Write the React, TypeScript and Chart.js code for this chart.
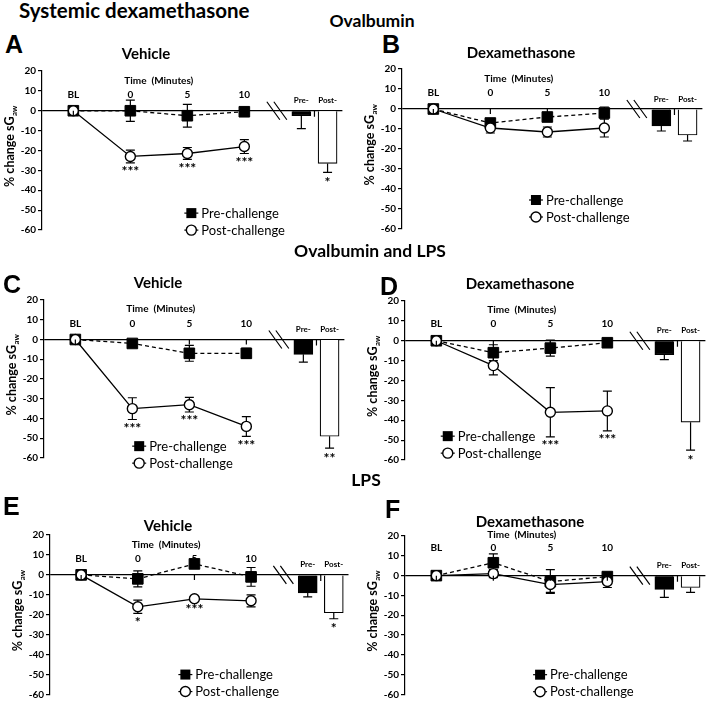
import React, { useEffect, useRef } from 'react';
import { Chart, registerables } from 'chart.js';
Chart.register(...registerables);

// ---------- text ----------
const figureTitle = 'Systemic dexamethasone';
const groupTitles = ['Ovalbumin', 'Ovalbumin and LPS', 'LPS'];
const panelLetters = ['A', 'B', 'C', 'D', 'E', 'F'];
const panelTitles = ['Vehicle', 'Dexamethasone', 'Vehicle', 'Dexamethasone', 'Vehicle', 'Dexamethasone'];
const categories = ['BL', '0', '5', '10'];
const barLabels = ['Pre-', 'Post-'];
const seriesNames = ['Pre-challenge', 'Post-challenge'];
const timeTitle = 'Time  (Minutes)';
const yTitleMain = '% change sG';
const yTitleSub = 'aw';
const yTicks = [20, 10, 0, -10, -20, -30, -40, -50, -60];

// ---------- data ----------
const preA = [0, 0, -2.5, -0.5];
const preAErr = [0, 5.3, 5.7, 1];
const postA = [0, -23, -21.5, -18];
const postAErr = [0, 3.2, 3, 3.5];
const barsA = [-2.5, -26.5];
const barsAErr = [6.5, 4.5];
const sigA = ['', '***', '***', '***'];
const sigBarsA = ['', '*'];

const preB = [0, -7, -4, -2];
const preBErr = [0, 2, 2, 3];
const postB = [0, -9.5, -11.5, -9.5];
const postBErr = [0, 2.5, 2.5, 4.5];
const barsB = [-8.5, -13];
const barsBErr = [2.5, 3];
const sigB = ['', '', '', ''];
const sigBarsB = ['', ''];

const preC = [0, -2, -7, -7];
const preCErr = [0, 1, 4, 2.5];
const postC = [0, -35, -33, -44];
const postCErr = [0, 5.5, 3.7, 5];
const barsC = [-7.5, -49];
const barsCErr = [4, 6];
const sigC = ['', '***', '***', '***'];
const sigBarsC = ['', '**'];

const preD = [0, -6, -3.7, -1];
const preDErr = [0, 4, 4, 1.5];
const postD = [0, -12.5, -36, -35.3];
const postDErr = [0, 4.7, 12.4, 10];
const barsD = [-7, -41];
const barsDErr = [2.5, 14];
const sigD = ['', '', '***', '***'];
const sigBarsD = ['', '*'];

const preE = [0, -2, 5.5, -1];
const preEErr = [0, 4, 1.5, 4.7];
const postE = [0, -16, -12, -13];
const postEErr = [0, 3.3, 1, 3];
const barsE = [-9, -19];
const barsEErr = [2, 3];
const sigE = ['', '*', '***', ''];
const sigBarsE = ['', '*'];

const preF = [0, 6.5, -3, -0.5];
const preFErr = [0, 4.5, 6, 1.5];
const postF = [0, 1, -4.5, -3];
const postFErr = [0, 2, 4, 3];
const barsF = [-7, -6];
const barsFErr = [4, 2.5];
const sigF = ['', '', '', ''];
const sigBarsF = ['', ''];

// ---------- layout ----------
const FONT = 'Lato, "Open Sans", sans-serif';
const X_MIN = -0.55;
const X_MAX = 4.72;
const BAR_X = [4.0, 4.46];
const BREAK_X = 3.57;
const TIME_X = 1.5;
const UNIT = 57;
const COL_W = 357;
const Y_AXIS_W = 30;

const panels = [
  { pre: preA, preErr: preAErr, post: postA, postErr: postAErr, bars: barsA, barsErr: barsAErr, sig: sigA, sigBars: sigBarsA,
    col: 0, top: 60, height: 182, axisX: 42, yTop: 71, yBottom: 230, labelOff: 16, timeOff: 30, legX: 2.07, legY: -51.5 },
  { pre: preB, preErr: preBErr, post: postB, postErr: postBErr, bars: barsB, barsErr: barsBErr, sig: sigB, sigBars: sigBarsB,
    col: 357, top: 60, height: 182, axisX: 402, yTop: 69, yBottom: 229, labelOff: 16, timeOff: 30, legX: 1.8, legY: -45.5 },
  { pre: preC, preErr: preCErr, post: postC, postErr: postCErr, bars: barsC, barsErr: barsCErr, sig: sigC, sigBars: sigBarsC,
    col: 0, top: 290, height: 182, axisX: 44, yTop: 300, yBottom: 458, labelOff: 16, timeOff: 31, legX: 1.12, legY: -54 },
  { pre: preD, preErr: preDErr, post: postD, postErr: postDErr, bars: barsD, barsErr: barsDErr, sig: sigD, sigBars: sigBarsD,
    col: 357, top: 290, height: 182, axisX: 405, yTop: 301, yBottom: 460, labelOff: 17, timeOff: 31, legX: 0.2, legY: -48 },
  { pre: preE, preErr: preEErr, post: postE, postErr: postEErr, bars: barsE, barsErr: barsEErr, sig: sigE, sigBars: sigBarsE,
    col: 0, top: 524, height: 179, axisX: 50, yTop: 535, yBottom: 695, labelOff: 16, timeOff: 30, legX: 1.84, legY: -50 },
  { pre: preF, preErr: preFErr, post: postF, postErr: postFErr, bars: barsF, barsErr: barsFErr, sig: sigF, sigBars: sigBarsF,
    col: 357, top: 524, height: 179, axisX: 405, yTop: 536, yBottom: 695, labelOff: 28, timeOff: 41, legX: 1.82, legY: -50 },
];

const decorPlugin = {
  id: 'decor',
  beforeDatasetsDraw(chart: any) {
    const ctx = chart.ctx;
    const ys = chart.scales.y;
    ctx.save();
    ctx.strokeStyle = '#000';
    ctx.lineWidth = 1.2;
    chart.data.datasets.forEach((ds: any, di: number) => {
      const meta = chart.getDatasetMeta(di);
      const errs = ds.errors || [];
      meta.data.forEach((el: any, i: number) => {
        const e = errs[i];
        if (!e) return;
        const v = ds.data[i].y;
        const x = el.x;
        let y1, y2;
        if (ds.errMode === 'outward') {
          y1 = ys.getPixelForValue(v);
          y2 = ys.getPixelForValue(v < 0 ? v - e : v + e);
        } else {
          y1 = ys.getPixelForValue(v + e);
          y2 = ys.getPixelForValue(v - e);
        }
        const cw = 4.5;
        ctx.beginPath();
        ctx.moveTo(x, y1); ctx.lineTo(x, y2);
        if (ds.errMode !== 'outward') { ctx.moveTo(x - cw, y1); ctx.lineTo(x + cw, y1); }
        ctx.moveTo(x - cw, y2); ctx.lineTo(x + cw, y2);
        ctx.stroke();
      });
    });
    ctx.restore();
  },
  afterDatasetsDraw(chart: any, _args: any, o: any) {
    const ctx = chart.ctx;
    const xs = chart.scales.x;
    const ys = chart.scales.y;
    const area = chart.chartArea;
    const zy = ys.getPixelForValue(0);
    ctx.save();
    ctx.fillStyle = '#000';
    ctx.strokeStyle = '#000';
    ctx.lineWidth = 1.2;
    // small ticks on zero line
    ctx.beginPath();
    categories.forEach((_, i) => {
      const x = xs.getPixelForValue(i);
      ctx.moveTo(x, zy); ctx.lineTo(x, zy + 5);
    });
    const mid = xs.getPixelForValue((BAR_X[0] + BAR_X[1]) / 2);
    ctx.moveTo(mid, zy); ctx.lineTo(mid, zy + 6);
    ctx.stroke();
    // axis break
    const bx = xs.getPixelForValue(BREAK_X);
    ctx.beginPath();
    for (let k = 0; k < 2; k++) {
      const off = k * 7 - 3.5;
      ctx.moveTo(bx + off - 6.5, zy - 9);
      ctx.lineTo(bx + off + 6.5, zy + 9);
    }
    ctx.stroke();
    // category labels
    ctx.textAlign = 'center';
    ctx.textBaseline = 'middle';
    ctx.font = `bold 10px ${FONT}`;
    categories.forEach((c, i) => ctx.fillText(c, xs.getPixelForValue(i), zy - o.labelOff));
    ctx.fillText(timeTitle, xs.getPixelForValue(TIME_X), zy - o.timeOff);
    ctx.font = `bold 8px ${FONT}`;
    barLabels.forEach((c, i) => ctx.fillText(c, xs.getPixelForValue(BAR_X[i]), zy - 10));
    // significance marks
    ctx.font = `bold 14px ${FONT}`;
    ctx.textBaseline = 'top';
    const postDs = chart.data.datasets[0];
    const postMeta = chart.getDatasetMeta(0);
    o.sig.forEach((s: string, i: number) => {
      if (!s) return;
      const v = postDs.data[i].y - (postDs.errors[i] || 0);
      ctx.fillText(s, postMeta.data[i].x, ys.getPixelForValue(v) + 2);
    });
    const barDs = chart.data.datasets[2];
    const barMeta = chart.getDatasetMeta(2);
    o.sigBars.forEach((s: string, i: number) => {
      if (!s) return;
      const v = barDs.data[i].y - (barDs.errors[i] || 0);
      ctx.fillText(s, barMeta.data[i].x, ys.getPixelForValue(v) + 3);
    });
    // y axis title
    ctx.save();
    ctx.translate(area.left - 32, (area.top + area.bottom) / 2 - 4);
    ctx.rotate(-Math.PI / 2);
    ctx.textAlign = 'left';
    ctx.textBaseline = 'middle';
    ctx.font = `bold 12.5px ${FONT}`;
    const w1 = ctx.measureText(yTitleMain).width;
    ctx.font = `bold 8px ${FONT}`;
    const w2 = ctx.measureText(yTitleSub).width;
    const sx = -(w1 + w2) / 2;
    ctx.font = `bold 12.5px ${FONT}`;
    ctx.fillText(yTitleMain, sx, 0);
    ctx.font = `bold 8px ${FONT}`;
    ctx.fillText(yTitleSub, sx + w1 + 0.5, 4);
    ctx.restore();
    // legend
    const lx = xs.getPixelForValue(o.legX);
    const ly = ys.getPixelForValue(o.legY);
    seriesNames.forEach((name, r) => {
      const y = ly + r * 17;
      ctx.beginPath();
      ctx.lineWidth = 1.2;
      ctx.moveTo(lx - 7, y); ctx.lineTo(lx + 7, y);
      ctx.stroke();
      if (r === 0) {
        ctx.fillStyle = '#000';
        ctx.fillRect(lx - 5, y - 5, 10, 10);
      } else {
        ctx.beginPath();
        ctx.arc(lx, y, 5, 0, Math.PI * 2);
        ctx.fillStyle = '#fff';
        ctx.fill();
        ctx.lineWidth = 1.4;
        ctx.stroke();
      }
      ctx.fillStyle = '#000';
      ctx.textAlign = 'left';
      ctx.textBaseline = 'middle';
      ctx.font = `13px ${FONT}`;
      ctx.fillText(name, lx + 10, y + 0.5);
    });
    ctx.restore();
  },
};

function buildConfig(p: any): any {
  const chartRight = p.axisX + (X_MAX - X_MIN) * UNIT;
  return {
    type: 'line',
    data: {
      datasets: [
        {
          type: 'line', label: seriesNames[1],
          data: p.post.map((v: number, i: number) => ({ x: i, y: v })),
          errors: p.postErr, errMode: 'both',
          borderColor: '#000', borderWidth: 1.3, tension: 0, fill: false,
          pointStyle: 'circle', pointRadius: 5, pointBackgroundColor: '#fff',
          pointBorderColor: '#000', pointBorderWidth: 1.4, order: 0,
        },
        {
          type: 'line', label: seriesNames[0],
          data: p.pre.map((v: number, i: number) => ({ x: i, y: v })),
          errors: p.preErr, errMode: 'both',
          borderColor: '#000', borderWidth: 1.3, borderDash: [4, 3], tension: 0, fill: false,
          pointStyle: 'rect', pointRadius: 7.5, pointBackgroundColor: '#000',
          pointBorderColor: '#000', pointBorderWidth: 1, order: 1,
        },
        {
          type: 'bar', label: 'bars',
          data: p.bars.map((v: number, i: number) => ({ x: BAR_X[i], y: v })),
          errors: p.barsErr, errMode: 'outward',
          backgroundColor: ['#000', '#fff'], borderColor: '#000', borderWidth: 1.2,
          barThickness: 19, order: 2,
        },
      ],
    },
    options: {
      animation: false,
      responsive: false,
      events: [],
      layout: {
        padding: {
          left: p.axisX - p.col - Y_AXIS_W,
          top: p.yTop - p.top,
          bottom: p.top + p.height - p.yBottom,
          right: p.col + COL_W - chartRight,
        },
      },
      plugins: {
        legend: { display: false },
        tooltip: { enabled: false },
        decor: {
          labelOff: p.labelOff, timeOff: p.timeOff, legX: p.legX, legY: p.legY,
          sig: p.sig, sigBars: p.sigBars,
        },
      },
      scales: {
        x: { type: 'linear', min: X_MIN, max: X_MAX, display: false, offset: false, grid: { offset: false } },
        y: {
          type: 'linear', min: -60, max: 20,
          afterFit: (s: any) => { s.width = Y_AXIS_W; },
          afterBuildTicks: (s: any) => { s.ticks = yTicks.map((v) => ({ value: v })); },
          ticks: { color: '#000', padding: 2, font: { family: FONT, size: 10, weight: 'bold' } },
          grid: {
            color: (c: any) => (c.tick && c.tick.value === 0 ? '#000' : 'rgba(0,0,0,0)'),
            tickColor: '#000', tickLength: 4, lineWidth: 1.2,
          },
          border: { display: true, color: '#000', width: 1.2 },
        },
      },
    },
    plugins: [decorPlugin],
  };
}

function Panel({ p }: { p: any }) {
  const ref = useRef<HTMLCanvasElement>(null);
  useEffect(() => {
    const chart = new Chart(ref.current as HTMLCanvasElement, buildConfig(p));
    return () => chart.destroy();
  }, []);
  return (
    <canvas
      ref={ref}
      width={COL_W}
      height={p.height}
      style={{ position: 'absolute', left: p.col, top: p.top, width: COL_W, height: p.height }}
    />
  );
}

function Txt({ x, base, size, text, center, family, bold }: any) {
  const lato = !family;
  const k = lato ? 0.887 : 0.8465;
  return (
    <div
      style={{
        position: 'absolute', left: x, top: base - k * size, fontSize: size, lineHeight: 1,
        fontFamily: family || FONT, fontWeight: bold ? 'bold' : 'normal', whiteSpace: 'nowrap',
        transform: center ? 'translateX(-50%)' : undefined, color: '#000',
      }}
    >
      {text}
    </div>
  );
}

const ARIAL = '"Liberation Sans", Arial, sans-serif';
const letterPos = [[5, 53], [382, 53], [3, 293], [380, 295], [3, 515], [385, 518]];
const titlePos = [[146, 59], [521, 58], [158, 288], [520, 289], [168, 531], [530, 527]];
const groupPos = [[372, 28], [370, 258], [366, 487]];

export default function App() {
  return (
    <div style={{ position: 'absolute', left: 0, top: 0, width: 714, height: 703, background: '#fff', overflow: 'hidden' }}>
      {panels.map((p, i) => <Panel key={i} p={p} />)}
      <Txt x={19} base={18} size={20.5} text={figureTitle} bold />
      {groupTitles.map((t, i) => <Txt key={t} x={groupPos[i][0]} base={groupPos[i][1]} size={17.5} text={t} bold center />)}
      {panelLetters.map((t, i) => <Txt key={t} x={letterPos[i][0]} base={letterPos[i][1]} size={25} text={t} bold family={ARIAL} />)}
      {panelTitles.map((t, i) => <Txt key={i} x={titlePos[i][0]} base={titlePos[i][1]} size={15} text={t} bold center />)}
    </div>
  );
}
